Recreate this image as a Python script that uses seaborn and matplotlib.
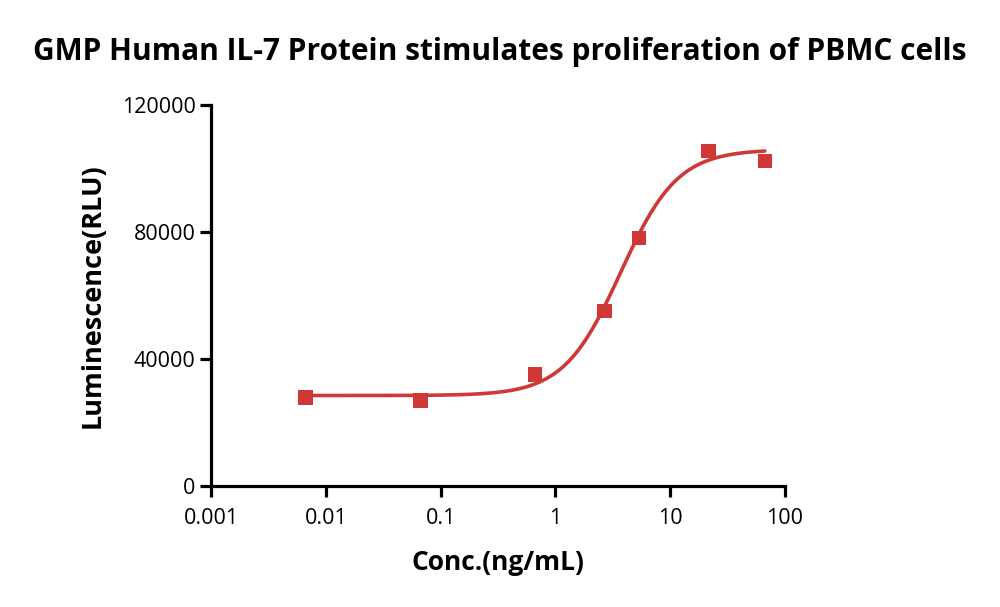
import numpy as np
import pandas as pd
import matplotlib
matplotlib.use("Agg")
import matplotlib.pyplot as plt
import seaborn as sns
from matplotlib.ticker import FixedLocator, FixedFormatter, NullLocator

# ---- data ----
conc = [0.00667, 0.0667, 0.667, 2.67, 5.33, 21.5, 66.7]
lum = [27800, 27000, 35200, 55100, 78100, 105500, 102400]

# 4PL fit parameters (estimated from the fitted curve)
fit_bottom = 28500
fit_top = 106000
fit_ec50 = 3.7
fit_hill = 1.75

x_ticks = [0.001, 0.01, 0.1, 1, 10, 100]
x_tick_labels = ["0.001", "0.01", "0.1", "1", "10", "100"]
y_ticks = [0, 40000, 80000, 120000]
y_tick_labels = ["0", "40000", "80000", "120000"]

title = "GMP Human IL-7 Protein stimulates proliferation of PBMC cells"
xlabel = "Conc.(ng/mL)"
ylabel = "Luminescence(RLU)"

red = "#d03838"

sns.set_theme(style="white")
plt.rcParams["font.family"] = ["Open Sans", "DejaVu Sans"]

fig = plt.figure(figsize=(10, 6.07), dpi=100)
ax = fig.add_axes([0.211, 0.1993, 0.574, 0.6277])

df = pd.DataFrame({"conc": conc, "lum": lum})

xs = np.logspace(np.log10(min(conc)), np.log10(max(conc)), 300)
ys = fit_bottom + (fit_top - fit_bottom) / (1 + (fit_ec50 / xs) ** fit_hill)
curve = pd.DataFrame({"conc": xs, "lum": ys})

sns.lineplot(data=curve, x="conc", y="lum", ax=ax, color=red, linewidth=2.6)
sns.scatterplot(data=df, x="conc", y="lum", ax=ax, color=red, marker="s",
                s=110, edgecolor="none", zorder=3)

ax.set_xscale("log")
ax.set_xlim(0.001, 100)
ax.set_ylim(0, 120000)
ax.xaxis.set_major_locator(FixedLocator(x_ticks))
ax.xaxis.set_major_formatter(FixedFormatter(x_tick_labels))
ax.xaxis.set_minor_locator(NullLocator())
ax.yaxis.set_major_locator(FixedLocator(y_ticks))
ax.yaxis.set_major_formatter(FixedFormatter(y_tick_labels))

for side in ["top", "right"]:
    ax.spines[side].set_visible(False)
for side in ["left", "bottom"]:
    ax.spines[side].set_linewidth(2.3)
    ax.spines[side].set_color("black")
    ax.spines[side].set_capstyle("projecting")

ax.tick_params(axis="both", which="major", direction="out", length=8, width=2.3,
               color="black", labelsize=15.5, labelcolor="black",
               bottom=True, left=True)
ax.tick_params(axis="x", pad=8)
ax.tick_params(axis="y", pad=3)

ax.set_xlabel(xlabel, fontsize=19, fontweight="bold", labelpad=14, color="black")
ax.set_ylabel(ylabel, fontsize=19.5, fontweight="bold", labelpad=12, color="black")

fig.text(0.5, 0.915, title, ha="center", va="center", fontsize=21.5,
         fontweight="bold", color="black")

fig.savefig("out.png", dpi=100, facecolor="white")
